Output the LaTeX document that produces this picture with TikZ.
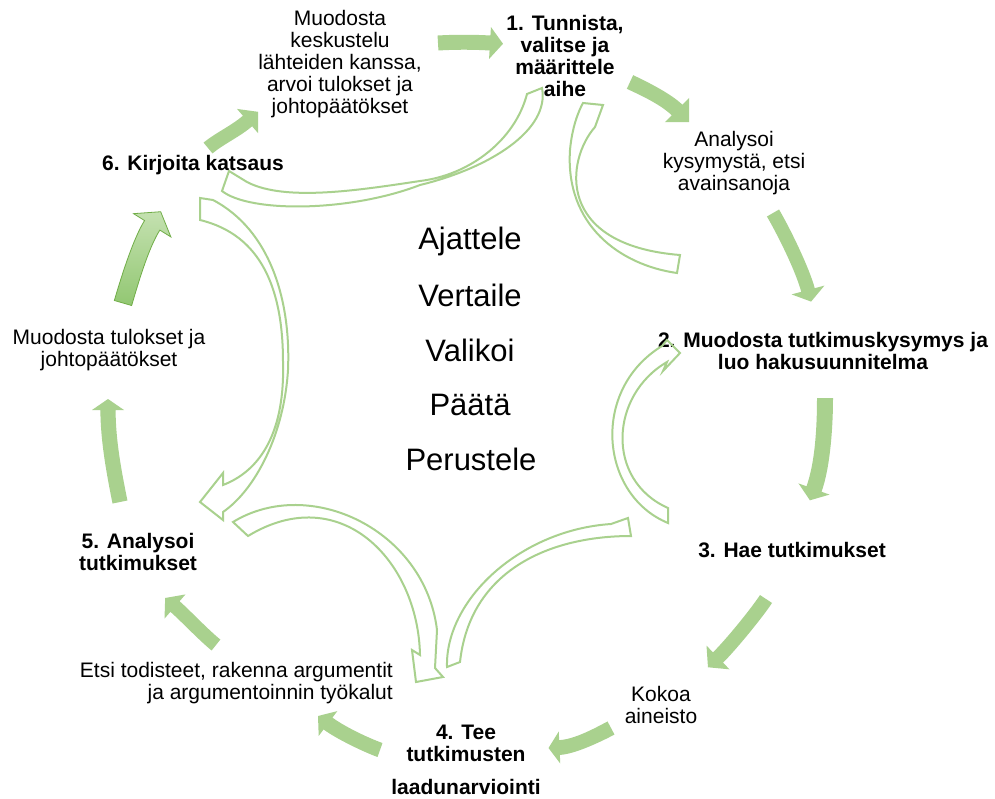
\documentclass[tikz,border=0pt]{standalone}
\usepackage{fontspec}
\setmainfont{Liberation Sans}
\usetikzlibrary{calc}

\definecolor{leafgreen}{RGB}{169,209,142}
\definecolor{leafdark}{RGB}{112,173,71}
\definecolor{leaflight}{RGB}{196,225,176}
\definecolor{leafmid}{RGB}{146,199,114}

\tikzset{
  solidarrow/.style={fill=leafgreen, draw=none},
  gradarrow/.style={top color=leaflight, bottom color=leafmid, draw=leafdark, line width=0.8pt},
  hollowarrow/.style={draw=leafgreen, line width=2pt, line join=miter},
  steplabel/.style={font=\bfseries\fontsize{21}{21.8}\selectfont, align=center, inner sep=0pt},
  notelabel/.style={font=\fontsize{21}{21.8}\selectfont, align=center, inner sep=0pt},
  verblabel/.style={font=\fontsize{31}{36}\selectfont, inner sep=0pt},
}

% Block arrow along a cubic centre line:
% #1 style, #2 tail, #3 control 1, #4 control 2, #5 head base,
% #6 half shaft width, #7 half head width, #8 head length
\newcommand\leafarrow[8]{%
  \path[#1] ($(#2)!#6!90:(#3)$) .. controls ($(#3)!#6!-90:(#2)$) and ($(#4)!#6!90:(#5)$) .. ($(#5)!#6!-90:(#4)$)
    -- ($(#5)!#7!-90:(#4)$) -- ($(#5)!-#8!(#4)$) -- ($(#5)!#7!90:(#4)$) -- ($(#5)!#6!90:(#4)$)
    .. controls ($(#4)!#6!-90:(#5)$) and ($(#3)!#6!90:(#2)$) .. ($(#2)!#6!-90:(#3)$) -- cycle;}

\begin{document}
\begin{tikzpicture}[x=1pt,y=-1pt]
\useasboundingbox[fill=white] (0,0) rectangle (995,798);

% ---- outer cycle of steps ----
\node[steplabel] (s1) at (565,56) {1. Tunnista,\\valitse ja\\määrittele\\aihe};
\node[steplabel] (s2) at (823,351) {2. Muodosta tutkimuskysymys ja\\luo hakusuunnitelma};
\node[steplabel] (s3) at (792,550) {3. Hae tutkimukset};
\node[steplabel] (s4) at (466,760) {4. Tee\\tutkimusten\\[11pt]laadunarviointi};
\node[steplabel] (s5) at (138,552) {5. Analysoi\\tutkimukset};
\node[steplabel] (s6) at (193,165) {6. Kirjoita katsaus};

% ---- intermediate actions ----
\node[notelabel] (n1) at (734,163) {Analysoi\\kysymystä, etsi\\avainsanoja};
\node[notelabel] (n3) at (661,705) {Kokoa\\aineisto};
\node[notelabel, align=right, anchor=east] (n4) at (393,683) {Etsi todisteet, rakenna argumentit\\ja argumentoinnin työkalut};
\node[notelabel] (n5) at (109,350) {Muodosta tulokset ja\\johtopäätökset};
\node[notelabel] (n6) at (340,64) {Muodosta\\keskustelu\\lähteiden kanssa,\\arvoi tulokset ja\\johtopäätökset};

% ---- thinking verbs in the middle ----
\node[verblabel] (v1) at (470,241) {Ajattele};
\node[verblabel] (v2) at (470,295) {Vertaile};
\node[verblabel] (v3) at (470,350) {Valikoi};
\node[verblabel] (v4) at (470,405) {Päätä};
\node[verblabel] (v5) at (471,459) {Perustele};

% ---- solid arrows of the main cycle ----
\leafarrow{solidarrow}{438,43}{455,42}{473,42}{490,43}{7.5pt}{16pt}{13pt}
\leafarrow{solidarrow}{630,82}{643.6,88.3}{666.4,99.4}{677,110}{7.5pt}{17pt}{17pt}
\leafarrow{solidarrow}{773,213}{785.5,234.6}{802.8,270.6}{808,290}{7pt}{17pt}{12pt}
\leafarrow{solidarrow}{825,398}{825,428}{822.5,465.5}{814,489}{8pt}{16.5pt}{12pt}
\leafarrow{solidarrow}{766,599}{755,615.6}{728.8,647}{718,657.5}{7.2pt}{16.5pt}{14pt}
\leafarrow{solidarrow}{611,728}{597.8,735}{574.5,746.8}{559.5,747.5}{7.4pt}{16pt}{11pt}
\leafarrow{solidarrow}{380,750}{366,745}{340,732.5}{328,723.5}{7.4pt}{15.5pt}{12.5pt}
\leafarrow{solidarrow}{216,645}{204.3,635.7}{184,614.3}{175,606.5}{7pt}{16pt}{13pt}
\leafarrow{solidarrow}{120,502}{114,472.6}{108,440}{108,410}{7.6pt}{16pt}{11pt}
\leafarrow{gradarrow}{123,303}{131.4,274.2}{141.6,242.3}{152.2,225.3}{9pt}{22pt}{16pt}
\leafarrow{solidarrow}{208,148}{219.5,138.5}{236,131}{247.5,121}{7pt}{16pt}{14pt}

% ---- hollow feedback arrows of the inner ring ----
% from step 1 back to step 6
\draw[hollowarrow] (527,94) .. controls (515,140) and (470,175) .. (420,181)
  .. controls (360,190) and (285,202) .. (247,182) -- (229,171) -- (222,191)
  .. controls (250,213) and (350,212) .. (420,185)
  .. controls (490,168) and (550,130) .. (542,88) -- cycle;
% loop back up into step 1
\draw[hollowarrow] (677,273) .. controls (620,265) and (565,225) .. (570,150)
  .. controls (572,128) and (578,112) .. (583,103) -- (603,105) -- (595,127)
  .. controls (566,160) and (555,245) .. (680,255) -- cycle;
% from step 6 down to step 5
\draw[hollowarrow] (213,200) .. controls (270,230) and (291,300) .. (288,370)
  .. controls (284,435) and (255,490) .. (223,512) -- (223,520) -- (200,502)
  -- (223,473) -- (223,485) .. controls (262,470) and (285,430) .. (283,362)
  .. controls (283,290) and (262,235) .. (200,220) -- (200,198) -- cycle;
% from step 5 down to step 4
\draw[hollowarrow] (233,522) .. controls (310,475) and (425,530) .. (437,630)
  -- (435,668) -- (443,677) -- (416,682) -- (412,650) -- (420,655)
  .. controls (418,560) and (340,480) .. (248,536) -- cycle;
% from step 4 up towards step 3
\draw[hollowarrow] (447,667) .. controls (445,600) and (520,530) .. (611,524)
  -- (628,518) -- (631,536) .. controls (550,536) and (470,570) .. (460,662) -- cycle;
% loop back up into step 2
\draw[hollowarrow] (668,523) .. controls (600,495) and (590,390) .. (662,346)
  -- (667,340) -- (680,353) -- (663,371) -- (667,362)
  .. controls (610,395) and (605,480) .. (668,508) -- cycle;
\end{tikzpicture}
\end{document}
